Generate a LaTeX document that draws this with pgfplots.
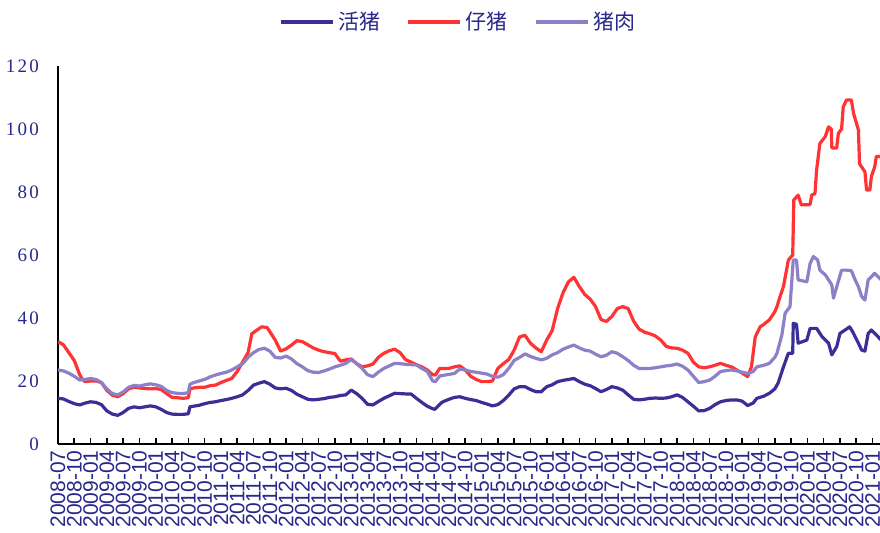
\documentclass[border=0pt]{standalone}
\usepackage{fontspec}
\usepackage{pgfplots}
\pgfplotsset{compat=1.18}
\setmainfont{Liberation Serif}
\newfontfamily\yfont[LetterSpace=12]{Liberation Serif}
\newfontfamily\xfont{Liberation Sans}
\newfontfamily\cjk{Noto Sans CJK SC}

\definecolor{huozhu}{RGB}{58,47,150}
\definecolor{zaizhu}{RGB}{255,51,51}
\definecolor{zhurou}{RGB}{140,128,200}
\definecolor{labelblue}{RGB}{40,40,140}

% months since 2008-07
\pgfplotstableread{
m v
0 14.5
1 14.3
2 13.5
3 12.8
4 12.4
5 13
6 13.4
7 13.2
8 12.5
9 10.5
10 9.5
11 9.1
12 10
13 11.3
14 11.8
15 11.5
16 11.8
17 12.1
18 11.8
19 11
20 10
21 9.5
22 9.4
23 9.4
24 9.6
24.3 11.8
25 12
26 12.3
27 12.8
28 13.2
29 13.4
30 13.8
31 14.1
32 14.5
33 15
34 15.6
35 17
36 18.7
37 19.3
38 19.8
39 19
40 17.8
41 17.5
42 17.7
43 17
44 15.8
45 15
46 14.2
47 14
48 14.2
49 14.4
50 14.8
51 15
52 15.4
53 15.6
54 17.1
55 16
56 14.5
57 12.6
58 12.4
59 13.5
60 14.5
61 15.3
62 16.1
63 16
64 15.9
65 15.9
66 14.5
67 13.2
68 12
69 11.2
69.4 11
70.6 13.1
71 13.5
72 14.2
73 14.8
74 15
75 14.5
76 14.1
77 13.8
78 13.2
79 12.7
80 12.1
81 12.5
82 13.8
83 15.5
84 17.5
85 18.2
86 18.2
87 17.3
88 16.6
89 16.6
90 18.2
91 18.8
92 19.8
93 20.2
94 20.5
95 20.8
96 19.8
97 19
98 18.5
99 17.6
100 16.6
101 17.3
102 18.2
103 17.8
104 17.1
105 15.6
106 14.2
107 14
108 14.2
109 14.5
110 14.6
111 14.5
112 14.6
113 15
114 15.6
115 14.8
116 13.4
117 12
118 10.5
119 10.6
120 11.3
121 12.5
122 13.4
123 13.8
124 14
125 14
126 13.6
127 12.2
128 13
128.7 14.5
130 15.2
131 16.1
132 17.5
132.6 19.3
133.6 24.5
134.5 28.8
135.3 28.8
135.4 38.3
136 38
136.3 32
137.9 33
138.5 36.7
139.7 36.7
140.7 34.1
141.9 32
142.5 28.3
143.4 30.9
144 35.1
145.8 37.2
146.5 35.1
147.4 32
148 29.8
148.6 29.5
149.2 35.1
149.8 36.2
151.6 33
}\huozhutab

\pgfplotstableread{
m v
0 32.5
1 31.5
2 29
3 26.5
4 22
4.5 20.5
5 19.8
6 20
7 20
8 19.5
9 17
10 15.5
11 15
12 16
13 17.5
14 18
15 17.8
16 17.6
17 17.5
18 17.6
19 17.3
20 16
21 14.8
22 14.7
23 14.5
24 14.7
24.3 17.5
25 17.8
26 18
27 18
28 18.5
29 18.7
30 19.5
31 20.2
32 20.8
33 23
34 26
35 29
35.7 35
36.5 36
37.5 37.2
38.5 37
39 35.7
40 33
41 29.5
42 30.2
43 31.4
44 32.8
45 32.5
46 31.5
47 30.5
48 29.8
49 29.3
50 29
51 28.7
52 26.3
53 26.7
54 27
55 25.5
56 24.5
57 24.8
58 25.4
59 27.5
60 28.8
61 29.6
62 30.1
63 29
64 26.8
65 26
66 25.2
67 24.5
68 23.5
69 22
69.5 21.9
70.3 24
71 24
72 24
73 24.5
74 24.8
75 23.5
76 21.5
77 20.5
78 19.8
79 19.8
80 20
81 24
82 25.5
83 26.8
84 29.8
85 34
86 34.5
87 32
88 30.5
89 29.3
90 33
91 36
92 43
93 48
94 51.5
95 52.9
96 50
97 47.5
98 46
99 43.6
100 39.5
101 38.9
102 40.5
103 43
104 43.6
105 43
106 39
107 36.5
108 35.5
109 35
110 34.3
111 33
112 31
113 30.5
114 30.4
115 29.8
116 28.8
117 26
118 24.5
119 24.2
120 24.5
121 25
122 25.6
123 25
124 24.5
125 23.5
126 22.5
127 21.4
127.7 24.5
128.4 34
129.3 37.2
130 38
131 39.4
132 42
132.4 43.6
133 47
133.6 50
134.5 58.4
135.3 60
135.5 77.5
136.3 79
136.9 75.9
138.5 76
138.8 79
139.4 79.5
139.7 87
140.3 95.4
141.3 97.6
141.9 100.7
142.4 100
142.5 94
143.4 94
143.7 98.6
144.3 100
144.6 107
145.2 109.2
146.1 109.2
146.5 105
147.4 99.7
147.6 89
148.6 86.4
148.9 80.6
149.5 80.6
149.8 85
150.4 88
150.7 91.3
151.6 91.3
}\zaizhutab

\pgfplotstableread{
m v
0 23.5
1 23.2
2 22.5
3 21.5
4 20.3
5 20.5
6 20.8
7 20.5
8 19.5
9 17.5
10 16
11 15.6
12 16.5
13 18
14 18.6
15 18.4
16 18.8
17 19.1
18 18.8
19 18.3
20 17
21 16.3
22 16.1
23 16
24 16.3
24.3 19
25 19.5
26 20
27 20.5
28 21.3
29 21.9
30 22.4
31 22.8
32 23.5
33 24.5
34 25.5
35 27.5
36 29
37 30
38 30.4
39 29.5
40 27.5
41 27.3
42 27.9
43 27
44 25.5
45 24.5
46 23.3
47 22.8
48 22.7
49 23.2
50 23.8
51 24.5
52 25
53 25.6
54 26.8
55 25.5
56 24
57 22
58 21.4
59 22.8
60 24
61 24.8
62 25.6
63 25.5
64 25.3
65 25.2
66 25.1
67 24
68 23
69 20
69.5 19.8
70.3 21.6
71 21.8
72 22.1
73 22.4
74 23.8
75 23.5
76 23
77 22.8
78 22.5
79 22.2
80 21.5
81 21.2
82 22
83 24
84 26.5
85 27.5
86 28.6
87 27.8
88 27.2
89 26.7
90 27.2
91 28.3
92 29
93 30.1
94 30.8
95 31.4
96 30.5
97 29.8
98 29.5
99 28.5
100 27.7
101 28.2
102 29.3
103 28.8
104 27.7
105 26.5
106 25
107 24
108 24
109 24
110 24.2
111 24.5
112 24.8
113 25
114 25.4
115 24.7
116 23.5
117 21.5
118 19.5
119 19.8
120 20.3
121 21.5
122 23
123 23.3
124 23.5
125 23.2
126 22.8
127 22.4
128 23
128.7 24.5
130 25
131 25.6
132 27.5
132.4 28.8
133.3 34.6
133.9 41.5
134.8 43.6
135.4 58.4
136 58.4
136.3 52.1
137.9 51.5
138.5 57.3
139.1 59.5
139.9 58.4
140.3 55.2
141.3 53.7
142.5 50.5
142.8 46.3
143.4 49.9
144.3 55.2
145.2 55.2
146.1 55
146.8 52.1
147.4 49.9
148 46.8
148.6 45.7
149.2 52.1
150.4 54.2
151.6 52.1
}\zhuroutab

\begin{document}
\begin{tikzpicture}
\begin{axis}[
    scale only axis,
    width=412.7pt, height=189pt,
    xmin=0, xmax=152,
    ymin=0, ymax=120,
    axis lines=left,
    axis line style={line width=1.1pt, -},
    xtick={0,3,...,150},
    xticklabels={2008-07,2008-10,
      2009-01,2009-04,2009-07,2009-10,
      2010-01,2010-04,2010-07,2010-10,
      2011-01,2011-04,2011-07,2011-10,
      2012-01,2012-04,2012-07,2012-10,
      2013-01,2013-04,2013-07,2013-10,
      2014-01,2014-04,2014-07,2014-10,
      2015-01,2015-04,2015-07,2015-10,
      2016-01,2016-04,2016-07,2016-10,
      2017-01,2017-04,2017-07,2017-10,
      2018-01,2018-04,2018-07,2018-10,
      2019-01,2019-04,2019-07,2019-10,
      2020-01,2020-04,2020-07,2020-10,
      2021-01},
    xticklabel style={rotate=90, anchor=east, font=\xfont\fontsize{10.5}{12}\selectfont, text=labelblue, inner sep=0pt, xshift=-3pt},
    x tick style={black, line width=0.8pt},
    tick align=inside,
    major tick length=3pt,
    ytick={0,20,...,120},
    y tick style={draw=none},
    yticklabel style={font=\yfont\fontsize{9.5}{11}\selectfont, text=labelblue, xshift=-6pt},
    /pgf/number format/assume math mode=true,
    legend style={at={(0.486,1)}, anchor=center, yshift=22pt, draw=none, fill=none,
      legend columns=3, font=\cjk\fontsize{10.5}{12}\selectfont, text=labelblue,
      /tikz/every even column/.append style={column sep=11pt}},
    legend image code/.code={\draw[#1, line width=1.7pt] (0pt,0pt) -- (26pt,0pt);},
    every axis plot/.append style={line width=1.6pt, line join=round},
]
\addplot[color=huozhu] table[x=m, y=v] {\huozhutab};
\addlegendentry{活猪}
\addplot[color=zaizhu] table[x=m, y=v] {\zaizhutab};
\addlegendentry{仔猪}
\addplot[color=zhurou] table[x=m, y=v] {\zhuroutab};
\addlegendentry{猪肉}
\coordinate (O) at (rel axis cs:0,0);
\end{axis}
\pgfresetboundingbox
\path[use as bounding box] ([shift={(-29pt,-44pt)}]O) rectangle ([shift={(411pt,222pt)}]O);
\end{tikzpicture}
\end{document}
